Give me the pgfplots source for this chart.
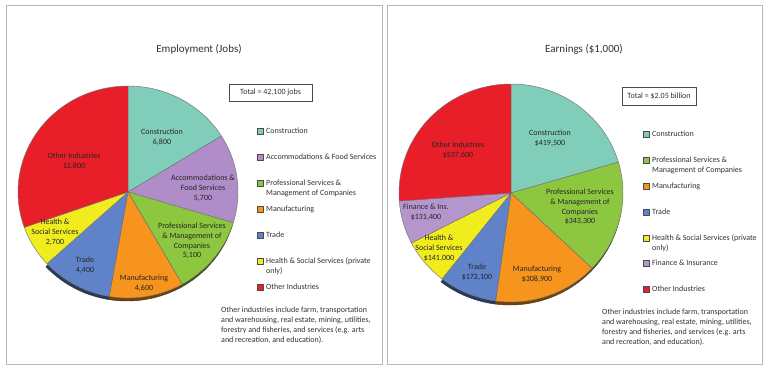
\documentclass[border=0pt]{standalone}
\usepackage{pgfplots}
\pgfplotsset{compat=1.18}
\usepackage{fontspec}
\setmainfont{Carlito}

\definecolor{cCon}{RGB}{128,206,186}
\definecolor{cAcc}{RGB}{176,140,200}
\definecolor{cPro}{RGB}{141,198,63}
\definecolor{cMan}{RGB}{246,148,30}
\definecolor{cTra}{RGB}{95,130,200}
\definecolor{cHea}{RGB}{240,236,30}
\definecolor{cOth}{RGB}{232,30,40}
\definecolor{cFin}{RGB}{180,150,205}
\definecolor{txt}{RGB}{50,50,50}

% #1 cx, #2 cy, #3 rx, #4 ry, #5 cumulative start, #6 cumulative end, #7 total, #8 fill
\newcommand{\pieslice}[8]{%
  \pgfmathsetmacro\aFrom{90-360*((#5)/(#7))}%
  \pgfmathsetmacro\aTo{90-360*((#6)/(#7))}%
  \edef\temp{\noexpand\addplot[fill=#8, draw=black!55, line width=0.45pt, line join=round, domain=\aTo:\aFrom, samples=60] ({#1+#3*cos(x)},{#2-#4*sin(x)}) -- (axis cs:#1,#2) -- cycle;}%
  \temp
}
\newcommand{\pieshadow}[8]{%
  \pgfmathsetmacro\aFrom{90-360*((#5)/(#7))}%
  \pgfmathsetmacro\aTo{90-360*((#6)/(#7))}%
  \edef\temp{\noexpand\addplot[fill=#8!45!black, draw=#8!35!black, line width=0.45pt, domain=\aTo:\aFrom, samples=60] ({#1-1+#3*cos(x)},{#2+3-#4*sin(x)}) -- (axis cs:#1-1,#2+3) -- cycle;}%
  \temp
}

\begin{document}
\begin{tikzpicture}
\begin{axis}[width=772pt,height=372pt,scale only axis,
  xmin=0,xmax=772,ymin=0,ymax=372,y dir=reverse,
  hide axis,clip=false]
\fill[white] (axis cs:0,0) rectangle (axis cs:772,372);
\draw[black!28, line width=1pt] (axis cs:6.5,5.5) rectangle (axis cs:382,364);
\draw[black!28, line width=1pt] (axis cs:387,5.5) rectangle (axis cs:762,364);

% ---------------- Employment (jobs, in thousands) ----------------
% Construction 6.8, Accommodations 5.7, Professional 5.1, Manufacturing 4.6,
% Trade 4.4, Health 2.7, Other 12.8 ; total 42.1
\pieshadow{128}{192}{110}{106}{17.6}{22.2}{42.1}{cMan}
\pieshadow{128}{192}{110}{106}{22.2}{26.6}{42.1}{cTra}
\pieshadow{128}{192}{110}{106}{12.5}{17.6}{42.1}{cPro}
\pieslice{128}{192}{110}{106}{0}{6.8}{42.1}{cCon}
\pieslice{128}{192}{110}{106}{6.8}{12.5}{42.1}{cAcc}
\pieslice{128}{192}{110}{106}{12.5}{17.6}{42.1}{cPro}
\pieslice{128}{192}{110}{106}{17.6}{22.2}{42.1}{cMan}
\pieslice{128}{192}{110}{106}{22.2}{26.6}{42.1}{cTra}
\pieslice{128}{192}{110}{106}{26.6}{29.3}{42.1}{cHea}
\pieslice{128}{192}{110}{106}{29.3}{42.1}{42.1}{cOth}

% ---------------- Earnings ($ millions) ----------------
% Construction 419.5, Professional 343.3, Manufacturing 308.9, Trade 172.1,
% Health 141.0, Finance 131.4, Other 537.6 ; total 2053.8
\pieshadow{511}{193}{112}{109}{762.8}{1071.7}{2053.8}{cMan}
\pieshadow{511}{193}{112}{109}{1071.7}{1243.8}{2053.8}{cTra}
\pieshadow{511}{193}{112}{109}{419.5}{762.8}{2053.8}{cPro}
\pieslice{511}{193}{112}{109}{0}{419.5}{2053.8}{cCon}
\pieslice{511}{193}{112}{109}{419.5}{762.8}{2053.8}{cPro}
\pieslice{511}{193}{112}{109}{762.8}{1071.7}{2053.8}{cMan}
\pieslice{511}{193}{112}{109}{1071.7}{1243.8}{2053.8}{cTra}
\pieslice{511}{193}{112}{109}{1243.8}{1384.8}{2053.8}{cHea}
\pieslice{511}{193}{112}{109}{1384.8}{1516.2}{2053.8}{cFin}
\pieslice{511}{193}{112}{109}{1516.2}{2053.8}{2053.8}{cOth}

% ---------------- titles ----------------
\node[text=txt, font=\fontsize{11}{13}\selectfont] at (axis cs:199,49) {Employment (Jobs)};
\node[text=txt, font=\fontsize{11}{13}\selectfont] at (axis cs:584,49) {Earnings (\$1,000)};

% ---------------- total boxes ----------------
\draw[black!70, line width=0.8pt] (axis cs:229,84) rectangle (axis cs:312,101);
\node[text=txt, font=\fontsize{8}{10}\selectfont] at (axis cs:270.5,92.5) {Total = 42,100 jobs};
\draw[black!70, line width=0.8pt] (axis cs:622,87) rectangle (axis cs:696,105);
\node[text=txt, font=\fontsize{8}{10}\selectfont] at (axis cs:659,96) {Total = \$2.05 billion};

% ---------------- slice labels (left) ----------------
\tikzset{lab/.style={text=black!85, font=\fontsize{8}{9.8}\selectfont, align=center, inner sep=0pt}}
\node[lab] at (axis cs:162,137) {Construction\\6,800};
\node[lab] at (axis cs:203,188) {Accommodations \&\\Food Services\\5,700};
\node[lab] at (axis cs:192,241) {Professional Services\\\& Management of\\Companies\\5,100};
\node[lab] at (axis cs:144,283) {Manufacturing\\4,600};
\node[lab] at (axis cs:85,265.5) {Trade\\4,400};
\node[lab] at (axis cs:55,232) {Health \&\\Social Services\\2,700};
\node[lab] at (axis cs:74,161) {Other Industries\\12,800};

% ---------------- slice labels (right) ----------------
\node[lab] at (axis cs:550,138) {Construction\\\$419,500};
\node[lab] at (axis cs:580,207) {Professional Services\\\& Management of\\Companies\\\$343,300};
\node[lab] at (axis cs:537,274) {Manufacturing\\\$308,900};
\node[lab] at (axis cs:477,272) {Trade\\\$172,100};
\node[lab] at (axis cs:439,248) {Health \&\\Social Services\\\$141,000};
\node[lab] at (axis cs:426,212) {Finance \& Ins.\\\$131,400};
\node[lab] at (axis cs:458,150) {Other Industries\\\$537,600};

% ---------------- legends ----------------
\tikzset{leg/.style={text=txt, font=\fontsize{8}{10}\selectfont, align=left, inner sep=0pt, anchor=west}}
\newcommand{\lbox}[3]{\draw[fill=#3, draw=black!70, line width=0.5pt] (axis cs:#1,#2-3) rectangle (axis cs:#1+6,#2+3);}
% left
\lbox{257}{131}{cCon} \node[leg] at (axis cs:266,131) {Construction};
\lbox{257}{157}{cAcc} \node[leg] at (axis cs:266,157) {Accommodations \& Food Services};
\lbox{257}{183}{cPro} \node[leg] at (axis cs:266,188) {Professional Services \&\\Management of Companies};
\lbox{257}{209}{cMan} \node[leg] at (axis cs:266,209) {Manufacturing};
\lbox{257}{235}{cTra} \node[leg] at (axis cs:266,235) {Trade};
\lbox{257}{261}{cHea} \node[leg] at (axis cs:266,266) {Health \& Social Services (private\\only)};
\lbox{257}{287}{cOth} \node[leg] at (axis cs:266,287) {Other Industries};
% right
\lbox{643}{134}{cCon} \node[leg] at (axis cs:652,134) {Construction};
\lbox{643}{160}{cPro} \node[leg] at (axis cs:652,165) {Professional Services \&\\Management of Companies};
\lbox{643}{186}{cMan} \node[leg] at (axis cs:652,186) {Manufacturing};
\lbox{643}{212}{cTra} \node[leg] at (axis cs:652,212) {Trade};
\lbox{643}{238}{cHea} \node[leg] at (axis cs:652,243) {Health \& Social Services (private\\only)};
\lbox{643}{263}{cFin} \node[leg] at (axis cs:652,263) {Finance \& Insurance};
\lbox{643}{289}{cOth} \node[leg] at (axis cs:652,289) {Other Industries};

% ---------------- footnotes ----------------
\node[leg] at (axis cs:221,325) {Other industries include farm, transportation\\and warehousing, real estate, mining, utilities,\\forestry and fisheries, and services (e.g. arts\\and recreation, and education).};
\node[leg] at (axis cs:602,327) {Other industries include farm, transportation\\and warehousing, real estate, mining, utilities,\\forestry and fisheries, and services (e.g. arts\\and recreation, and education).};
\end{axis}
\end{tikzpicture}
\end{document}
